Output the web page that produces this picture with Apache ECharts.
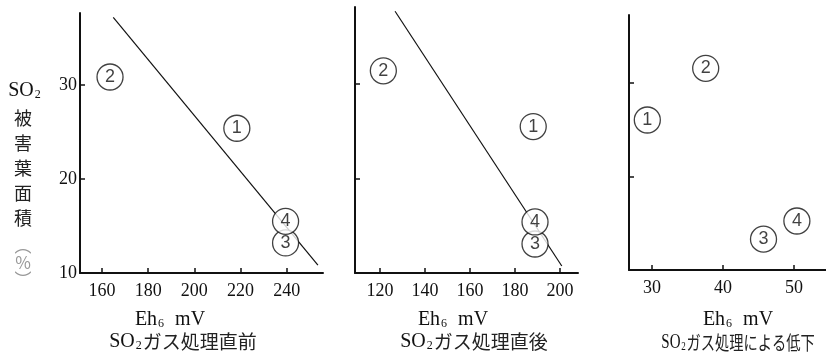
<!DOCTYPE html>
<html>
<head>
<meta charset="utf-8">
<script src="https://cdn.jsdelivr.net/npm/echarts@6/dist/echarts.min.js"></script>
<style>
html,body{margin:0;padding:0;background:#fff;}
#c{width:826px;height:357px;}
</style>
</head>
<body>
<div id="c"></div>
<script>
// ---- data ----
const pointNames = ['1', '2', '3', '4'];

// Panel 1: SO2ガス処理直前
const p1X = [218.4, 163.5, 239.5, 239.5];
const p1Y = [25.4, 30.85, 13.2, 15.5];
const p1LineX = [164.9, 253.5];
const p1LineY = [37.2, 10.85];
const p1Ticks = [160, 180, 200, 220, 240];

// Panel 2: SO2ガス処理直後
const p2X = [188.1, 121.5, 188.9, 188.9];
const p2Y = [25.5, 31.4, 13.07, 15.4];
const p2LineX = [126.7, 200.8];
const p2LineY = [37.7, 10.74];
const p2Ticks = [120, 140, 160, 180, 200];

// Panel 3: SO2ガス処理による低下
const p3X = [29.34, 37.56, 45.7, 50.4];
const p3Y = [26.04, 31.57, 13.3, 15.24];
const p3Ticks = [30, 40, 50];

const yTicks = [10, 20, 30];

// ---- chart ----
const SERIF = '"Liberation Serif", "DejaVu Serif", serif';
const CJK = '"Noto Sans CJK JP", sans-serif';
const chart = echarts.init(document.getElementById('c'), null, {renderer: 'canvas'});

function pts(xs, ys) { return xs.map((x, i) => [x, ys[i], pointNames[i]]); }

const grids = [
  {left: 80, right: 503, top: 13, bottom: 84},
  {left: 355, right: 248, top: 7, bottom: 84},
  {left: 629, right: 0, top: 15, bottom: 87}
];
const xr = [[150.5, 255.7], [108.9, 208], [26.76, 54.5]];
const yr = [[10, 37.66], [10, 38.15], [10, 37.27]];
const xt = [p1Ticks, p2Ticks, p3Ticks];

const axisLine = {show: true, onZero: false, lineStyle: {color: '#111', width: 2}};

const xAxes = grids.map((g, i) => ({
  type: 'value', gridIndex: i, min: xr[i][0], max: xr[i][1],
  axisLine: axisLine,
  axisTick: {show: true, inside: true, length: 5, customValues: xt[i], lineStyle: {color: '#111', width: 1.5}},
  axisLabel: {show: true, customValues: xt[i], color: '#111', fontFamily: SERIF, fontSize: 18, margin: 9},
  splitLine: {show: false}
}));
const yAxes = grids.map((g, i) => ({
  type: 'value', gridIndex: i, min: yr[i][0], max: yr[i][1],
  axisLine: axisLine,
  axisTick: {show: true, inside: true, length: 5, customValues: [20, 30], lineStyle: {color: '#111', width: 1.5}},
  axisLabel: {show: i === 0, customValues: yTicks, color: '#111', fontFamily: SERIF, fontSize: 18, margin: 3},
  splitLine: {show: false}
}));

function scatter(i, data) {
  return {
    type: 'scatter', xAxisIndex: i, yAxisIndex: i, z: 5,
    data: data, symbol: 'circle', symbolSize: [26, 26],
    itemStyle: {color: '#fff', borderColor: '#111', borderWidth: 1.3},
    label: {show: true, position: 'inside', formatter: p => p.data[2],
      color: '#111', fontFamily: '"Liberation Sans", "DejaVu Sans", sans-serif', fontSize: 18},
    emphasis: {disabled: true}
  };
}
function line(i, xs, ys) {
  return {
    type: 'line', xAxisIndex: i, yAxisIndex: i, z: 2,
    data: xs.map((x, k) => [x, ys[k]]), symbol: 'none',
    lineStyle: {color: '#111', width: 1.2}, emphasis: {disabled: true}
  };
}

const richT = {
  a: {fontFamily: SERIF, fontSize: 20, fill: '#111', color: '#111'},
  s: {fontFamily: SERIF, fontSize: 12, fill: '#111', color: '#111', verticalAlign: 'bottom', padding: [0, 1, 0, 1]},
  j: {fontFamily: CJK, fontSize: 19, fill: '#222', color: '#222'}
};
function txt(x, y, text, sx) {
  return {type: 'text', x: x, y: y, z: 10, scaleX: sx || 1,
    style: {text: text, rich: richT, align: 'center', verticalAlign: 'middle',
      textAlign: 'center', textVerticalAlign: 'middle', fill: '#111'}};
}

const option = {
  animation: false,
  backgroundColor: '#fff',
  grid: grids,
  xAxis: xAxes,
  yAxis: yAxes,
  series: [
    line(0, p1LineX, p1LineY), scatter(0, pts(p1X, p1Y)),
    line(1, p2LineX, p2LineY), scatter(1, pts(p2X, p2Y)),
    scatter(2, pts(p3X, p3Y))
  ],
  graphic: [
    txt(170, 320, '{a|Eh}{s|6}{a|  mV}'),
    txt(183, 342, '{a|SO}{s|2}{j|ガス処理直前}'),
    txt(453, 320, '{a|Eh}{s|6}{a|  mV}'),
    txt(474, 342, '{a|SO}{s|2}{j|ガス処理直後}'),
    txt(738, 320, '{a|Eh}{s|6}{a|  mV}'),
    txt(738, 343, '{a|SO}{s|2}{j|ガス処理による低下}', 0.75),
    txt(25, 91, '{a|SO}{s|2}'),
    {type: 'text', x: 23, y: 168, z: 10,
      style: {text: '被\n害\n葉\n面\n積', font: '18px ' + CJK, fill: '#222', lineHeight: 25,
        align: 'center', verticalAlign: 'middle', textAlign: 'center', textVerticalAlign: 'middle'}},
    {type: 'text', x: 23, y: 263, z: 10,
      style: {text: '︵\n%\n︶', font: '17px ' + CJK, fill: '#999', lineHeight: 17,
        align: 'center', verticalAlign: 'middle', textAlign: 'center', textVerticalAlign: 'middle'}}
  ]
};
chart.setOption(option);
</script>
</body>
</html>
